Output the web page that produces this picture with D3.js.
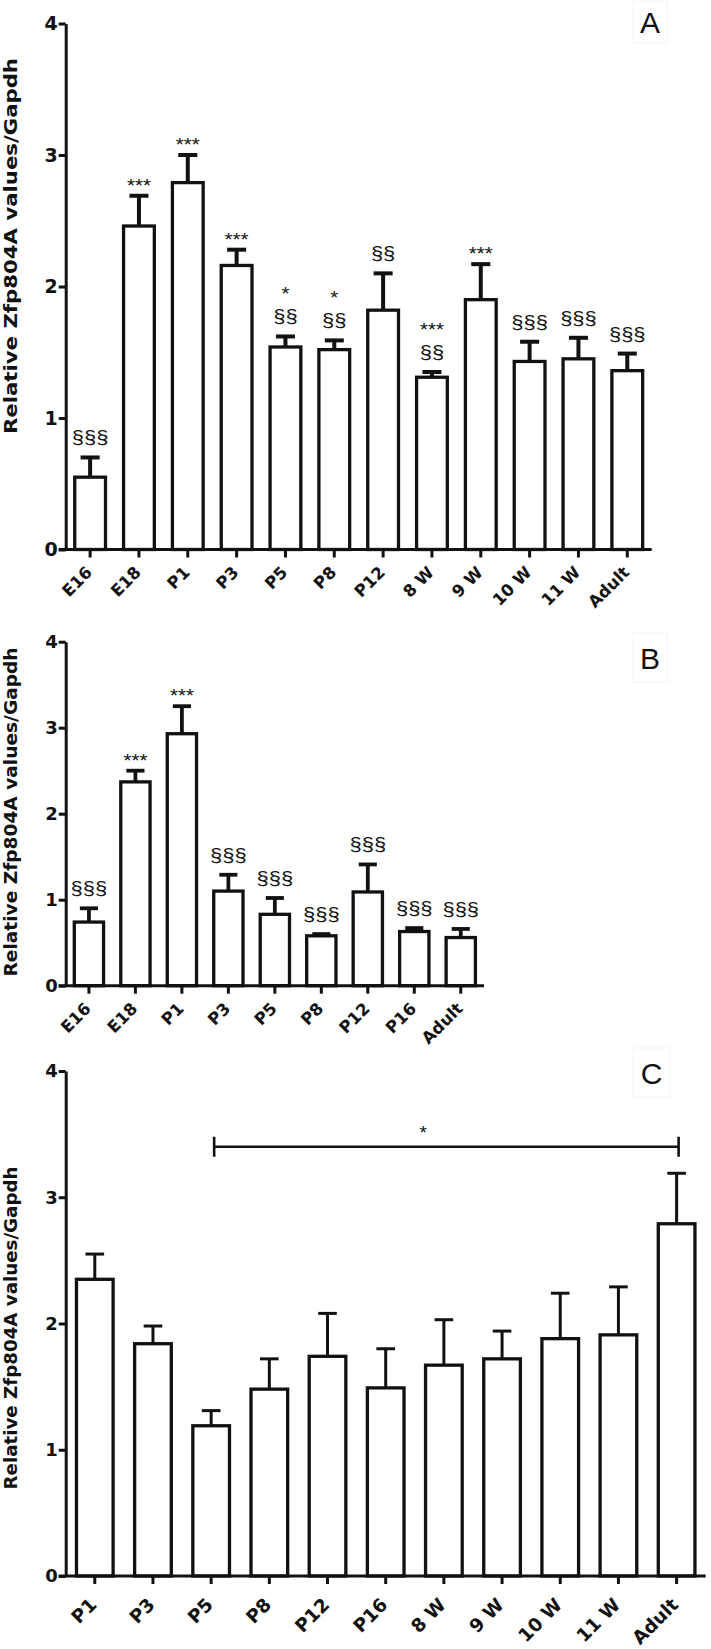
<!DOCTYPE html>
<html><head><meta charset="utf-8">
<script src="https://cdn.jsdelivr.net/npm/d3@7"></script>
<style>body{margin:0;background:#fff} svg{display:block}</style>
</head><body>
<script>
// ---------- data ----------
const yTicks = [0, 1, 2, 3, 4];
const yTitle = "Relative Zfp804A values/Gapdh";

const catA   = ["E16","E18","P1","P3","P5","P8","P12","8 W","9 W","10 W","11 W","Adult"];
const meanA  = [0.55, 2.46, 2.79, 2.16, 1.54, 1.52, 1.82, 1.31, 1.90, 1.43, 1.45, 1.36];
const semA   = [0.15, 0.23, 0.21, 0.12, 0.08, 0.07, 0.28, 0.04, 0.27, 0.15, 0.16, 0.13];
const starA  = ["", "***", "***", "***", "*", "*", "", "***", "***", "", "", ""];
const sectA  = ["§§§", "", "", "", "§§", "§§", "§§", "§§", "", "§§§", "§§§", "§§§"];

const catB   = ["E16","E18","P1","P3","P5","P8","P12","P16","Adult"];
const meanB  = [0.74, 2.37, 2.93, 1.10, 0.83, 0.58, 1.09, 0.63, 0.56];
const semB   = [0.16, 0.13, 0.32, 0.19, 0.19, 0.02, 0.32, 0.04, 0.10];
const starB  = ["", "***", "***", "", "", "", "", "", ""];
const sectB  = ["§§§", "", "", "§§§", "§§§", "§§§", "§§§", "§§§", "§§§"];

const catC   = ["P1","P3","P5","P8","P12","P16","8 W","9 W","10 W","11 W","Adult"];
const meanC  = [2.35, 1.84, 1.19, 1.48, 1.74, 1.49, 1.67, 1.72, 1.88, 1.91, 2.79];
const semC   = [0.20, 0.14, 0.12, 0.24, 0.34, 0.31, 0.36, 0.22, 0.36, 0.38, 0.40];
const starC  = ["", "", "", "", "", "", "", "", "", "", ""];
const sectC  = ["", "", "", "", "", "", "", "", "", "", ""];
const bracketC = {from: "P5", to: "Adult", level: 3.4, text: "*"};

// ---------- drawing ----------
const W = 711, H = 1649;
const svg = d3.select("body").append("svg").attr("width", W).attr("height", H)
  .style("font-family", "'DejaVu Sans', sans-serif");
const INK = "#111";

function drawPanel(p) {
  const g = svg.append("g");
  const x = d3.scaleBand().domain(p.cats).range([p.left, p.right])
    .paddingInner(0.37).paddingOuter(0.185);
  const y = d3.scaleLinear().domain([0, 4]).range([p.bottom, p.top]);
  const bw = x.bandwidth();
  const step = x.step();
  const cx = d => x(d) + bw / 2;

  // bars
  g.selectAll("rect.bar").data(p.cats).join("rect").attr("class", "bar")
    .attr("x", d => x(d)).attr("width", bw)
    .attr("y", (d, i) => y(p.means[i]))
    .attr("height", (d, i) => y(0) - y(p.means[i]))
    .attr("fill", "#fff").attr("stroke", INK).attr("stroke-width", 3.3);

  // error bars
  g.selectAll("line.stem").data(p.cats).join("line").attr("class", "stem")
    .attr("x1", cx).attr("x2", cx)
    .attr("y1", (d, i) => y(p.means[i])).attr("y2", (d, i) => y(p.means[i] + p.sems[i]))
    .attr("stroke", INK).attr("stroke-width", p.errW);
  g.selectAll("line.cap").data(p.cats).join("line").attr("class", "cap")
    .attr("x1", d => cx(d) - step * p.capFrac / 2).attr("x2", d => cx(d) + step * p.capFrac / 2)
    .attr("y1", (d, i) => y(p.means[i] + p.sems[i])).attr("y2", (d, i) => y(p.means[i] + p.sems[i]))
    .attr("stroke", INK).attr("stroke-width", p.errW);

  // annotations
  p.cats.forEach((d, i) => {
    const capY = y(p.means[i] + p.sems[i]);
    const s = p.sects[i], st = p.stars[i];
    let base = capY;
    if (s) {
      base = capY - 14;
      g.append("text").attr("x", cx(d)).attr("y", base).attr("text-anchor", "middle")
        .attr("font-family", "'Liberation Sans', Arial, sans-serif").attr("font-size", 18.5)
        .attr("textLength", s.length * 12.2).attr("lengthAdjust", "spacingAndGlyphs")
        .attr("fill", INK).text(s);
    }
    if (st) {
      const b = s ? base - 22 : capY - 4;
      g.append("text").attr("x", cx(d)).attr("y", b).attr("text-anchor", "middle")
        .attr("font-family", "'Liberation Sans', Arial, sans-serif").attr("font-size", 19)
        .attr("textLength", st.length * 8).attr("lengthAdjust", "spacingAndGlyphs")
        .attr("fill", INK).text(st);
    }
  });

  // axes
  const ya = d3.axisLeft(y).tickValues(yTicks).tickFormat(d3.format("d"))
    .tickSize(7).tickSizeOuter(0).tickPadding(1);
  const yg = g.append("g").attr("transform", `translate(${p.left},0)`).call(ya);
  yg.selectAll("text").attr("font-family", "'DejaVu Sans', sans-serif")
    .attr("font-weight", "bold").attr("font-size", p.yFont).attr("fill", INK);

  const xa = d3.axisBottom(x).tickSize(8).tickSizeOuter(0);
  const xg = g.append("g").attr("transform", `translate(0,${p.bottom})`).call(xa);
  xg.select(".domain").attr("d", `M${p.left - 7},0H${p.right}`);
  xg.selectAll("text").attr("x", 0).attr("y", 0).attr("dy", 0)
    .attr("text-anchor", "end")
    .attr("transform", `translate(3,${p.xOff}) rotate(-45)`)
    .attr("font-family", "'DejaVu Sans', sans-serif").attr("font-weight", "bold")
    .attr("font-size", p.xFont).attr("fill", INK);

  [yg, xg].forEach(a => {
    a.selectAll(".domain").attr("stroke", INK).attr("stroke-width", 3);
    a.selectAll(".tick line").attr("stroke", INK).attr("stroke-width", 3);
  });

  // y title
  g.append("text")
    .attr("transform", `translate(${p.titleX},${p.titleY}) rotate(-90)`)
    .attr("text-anchor", "middle").attr("font-weight", "bold").attr("font-size", 18)
    .attr("textLength", p.titleLen).attr("lengthAdjust", "spacingAndGlyphs")
    .attr("fill", INK).text(yTitle);

  // panel label
  g.append("rect").attr("x", p.box[0]).attr("y", p.box[1]).attr("width", p.box[2]).attr("height", p.box[3])
    .attr("fill", "none").attr("stroke", "#f4f4f4").attr("stroke-width", 1);
  g.append("text").attr("x", p.box[0] + p.box[2] / 2).attr("y", p.box[1] + p.box[3] / 2 + 11)
    .attr("text-anchor", "middle").attr("font-family", "'Liberation Sans', Arial, sans-serif")
    .attr("font-size", 30).attr("fill", INK).text(p.label);

  // bracket
  if (p.bracket) {
    const b = p.bracket;
    const x1 = cx(b.from) + 3, x2 = cx(b.to) + 2, by = y(b.level);
    g.append("path").attr("d", `M${x1},${by - 10}V${by + 10}M${x1},${by}H${x2}M${x2},${by - 10}V${by + 10}`)
      .attr("fill", "none").attr("stroke", INK).attr("stroke-width", 2.6);
    g.append("text").attr("x", x1 + (x2 - x1) * 0.45).attr("y", by - 8).attr("text-anchor", "middle")
      .attr("font-family", "'Liberation Sans', Arial, sans-serif").attr("font-size", 19)
      .attr("fill", INK).text(b.text);
  }
}

drawPanel({cats: catA, means: meanA, sems: semA, stars: starA, sects: sectA,
  left: 65.7, right: 651.7, top: 23.5, bottom: 549.5, capFrac: 0.39, errW: 4,
  yFont: 19, xFont: 16.5, xOff: 24, titleX: 16.5, titleY: 246, titleLen: 376,
  box: [633, 0, 34, 43], label: "A"});

drawPanel({cats: catB, means: meanB, sems: semB, stars: starB, sects: sectB,
  left: 65.7, right: 484, top: 641.7, bottom: 985.7, capFrac: 0.39, errW: 3.8,
  yFont: 18, xFont: 16.5, xOff: 24, titleX: 16.5, titleY: 812, titleLen: 329,
  box: [633, 633, 34, 49], label: "B"});

drawPanel({cats: catC, means: meanC, sems: semC, stars: starC, sects: sectC,
  left: 65.7, right: 705.7, top: 1071, bottom: 1576, capFrac: 0.32, errW: 3,
  yFont: 18, xFont: 18.5, xOff: 30, titleX: 16.5, titleY: 1328, titleLen: 323,
  box: [633, 1048, 37, 49], label: "C", bracket: bracketC});
</script>
</body></html>
